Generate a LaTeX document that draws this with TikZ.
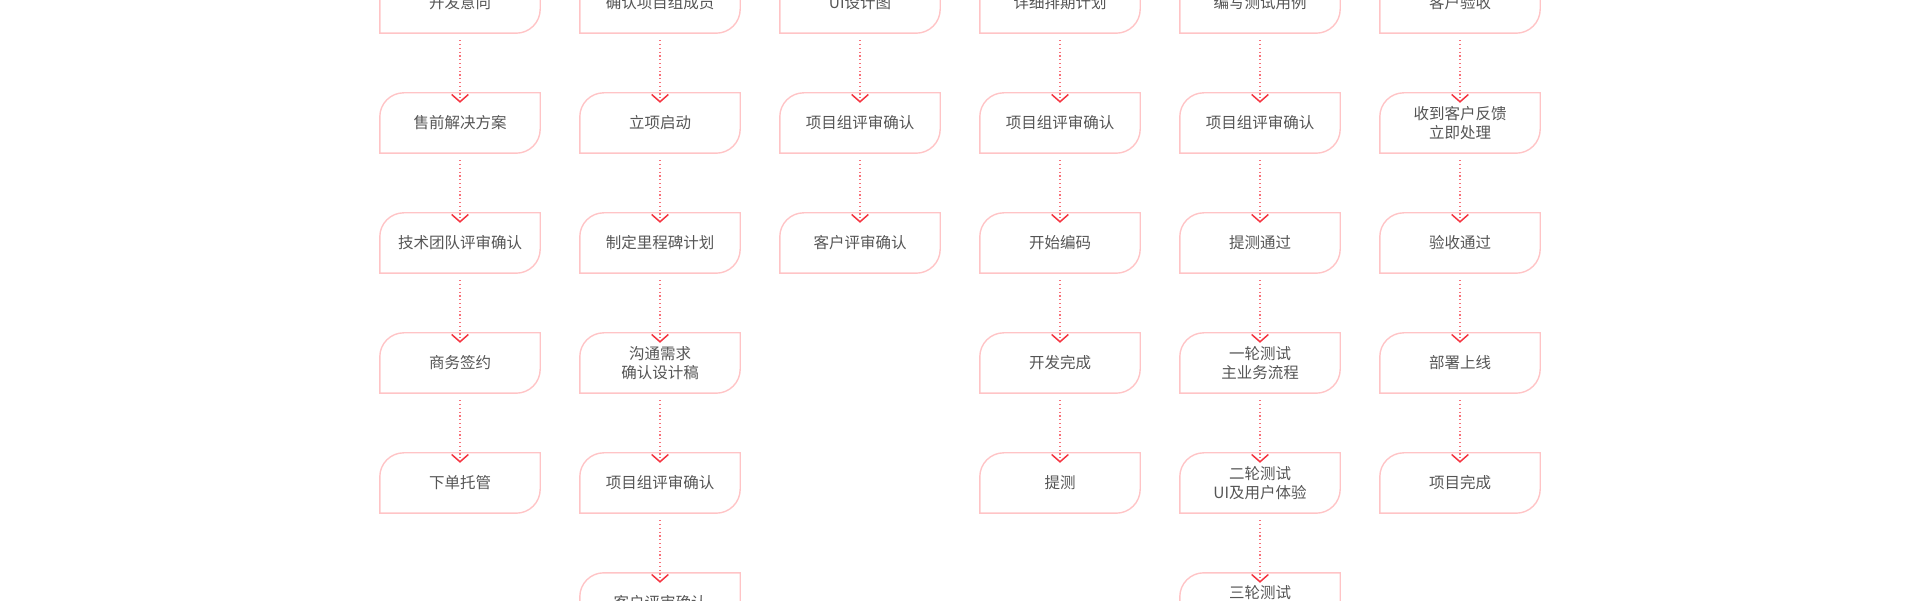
\documentclass[tikz,border=0pt]{standalone}
\usepackage{fontspec}
\setmainfont{Noto Sans CJK SC}
\definecolor{bxc}{HTML}{FFC4C6}
\definecolor{arc}{HTML}{F5333F}
\definecolor{txc}{HTML}{555555}
\tikzset{
  lbl/.style={inner sep=0pt,minimum width=160pt,minimum height=60pt,text=txc,font=\fontsize{15.5}{19}\selectfont,align=center},
  boxline/.style={draw=bxc,line width=1.4pt},
  dotl/.style={draw=arc!70,line width=1.1pt,dash pattern=on 1.2pt off 2.6pt},
  chev/.style={draw=arc,line width=1.5pt,line cap=round,line join=miter},
}
\newcommand{\bx}[4]{%
  \node[lbl] (#1) at (#2,#3) {#4};
  \draw[boxline] (#1.south west) -- ([yshift=-24pt]#1.north west) arc(180:90:24pt) -- (#1.north east) -- ([yshift=24pt]#1.south east) arc(0:-90:24pt) -- cycle;}
\newcommand{\ar}[2]{%
  \coordinate (t#1#2) at ([yshift=-9pt]#2.north);
  \draw[dotl] ([yshift=-7pt]#1.south) -- ([yshift=2pt]t#1#2);
  \draw[chev] ([xshift=-8pt,yshift=7pt]t#1#2) -- (t#1#2) -- ([xshift=8pt,yshift=7pt]t#1#2);}
\begin{document}
\begin{tikzpicture}[x=1pt,y=1pt]
\useasboundingbox (0,0) rectangle (1920,600);
\clip (0,0) rectangle (1920,600);
% col 1
\bx{a0}{460}{597}{开发意向}
\bx{a1}{460}{477}{售前解决方案}
\bx{a2}{460}{357}{技术团队评审确认}
\bx{a3}{460}{237}{商务签约}
\bx{a4}{460}{117}{下单托管}
\ar{a0}{a1}\ar{a1}{a2}\ar{a2}{a3}\ar{a3}{a4}
% col 2
\bx{b0}{660}{597}{确认项目组成员}
\bx{b1}{660}{477}{立项启动}
\bx{b2}{660}{357}{制定里程碑计划}
\bx{b3}{660}{237}{沟通需求\\确认设计稿}
\bx{b4}{660}{117}{项目组评审确认}
\bx{b5}{660}{-3}{客户评审确认}
\ar{b0}{b1}\ar{b1}{b2}\ar{b2}{b3}\ar{b3}{b4}\ar{b4}{b5}
% col 3
\bx{c0}{860}{597}{UI设计图}
\bx{c1}{860}{477}{项目组评审确认}
\bx{c2}{860}{357}{客户评审确认}
\ar{c0}{c1}\ar{c1}{c2}
% col 4
\bx{d0}{1060}{597}{详细排期计划}
\bx{d1}{1060}{477}{项目组评审确认}
\bx{d2}{1060}{357}{开始编码}
\bx{d3}{1060}{237}{开发完成}
\bx{d4}{1060}{117}{提测}
\ar{d0}{d1}\ar{d1}{d2}\ar{d2}{d3}\ar{d3}{d4}
% col 5
\bx{e0}{1260}{597}{编写测试用例}
\bx{e1}{1260}{477}{项目组评审确认}
\bx{e2}{1260}{357}{提测通过}
\bx{e3}{1260}{237}{一轮测试\\主业务流程}
\bx{e4}{1260}{117}{二轮测试\\UI及用户体验}
\bx{e5}{1260}{-3}{}
\node[text=txc,font=\fontsize{15.5}{19}\selectfont] (e5t) at (1260,7) {三轮测试};
\ar{e0}{e1}\ar{e1}{e2}\ar{e2}{e3}\ar{e3}{e4}\ar{e4}{e5}
% col 6
\bx{f0}{1460}{597}{客户验收}
\bx{f1}{1460}{477}{收到客户反馈\\立即处理}
\bx{f2}{1460}{357}{验收通过}
\bx{f3}{1460}{237}{部署上线}
\bx{f4}{1460}{117}{项目完成}
\ar{f0}{f1}\ar{f1}{f2}\ar{f2}{f3}\ar{f3}{f4}
\end{tikzpicture}
\end{document}
